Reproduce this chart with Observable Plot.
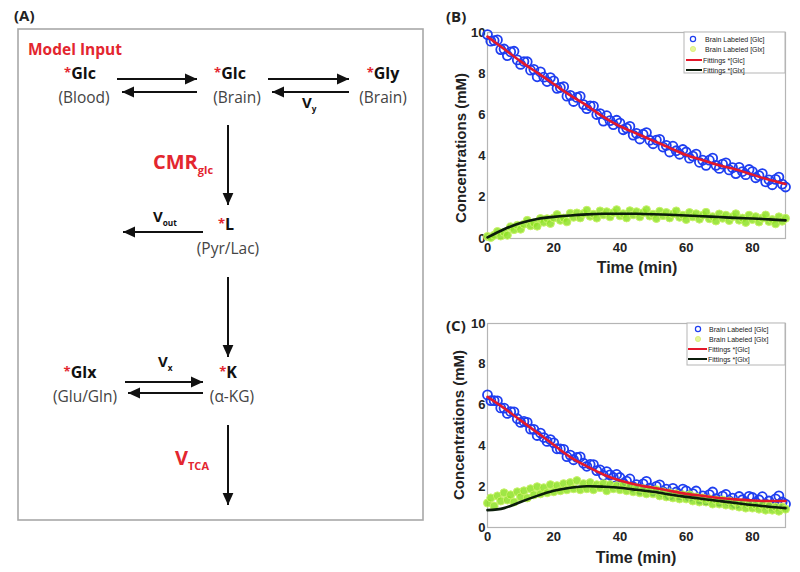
<!DOCTYPE html>
<html><head><meta charset="utf-8">
<script src="https://cdn.jsdelivr.net/npm/d3@7"></script>
<script src="https://cdn.jsdelivr.net/npm/@observablehq/plot@0.6"></script>
<style>
body{margin:0;background:#fff;}
#wrap{position:relative;width:800px;height:572px;overflow:hidden;background:#fff;font-family:"Liberation Sans",Arial,sans-serif;}
.plot{position:absolute;}
#overlay{position:absolute;left:0;top:0;pointer-events:none;}
</style>
</head><body>
<div id="wrap"><div id="pB" class="plot" style="left:440px;top:0px"></div><div id="pC" class="plot" style="left:440px;top:280px"></div></div>
<script>
// ---------- DATA ----------
const minutes = d3.range(0, 91, 1);       // sampling grid of the measurements (min)
const fitMinutes = d3.range(0, 91, 5);    // sampling grid of the fitted curves (min)
const xTicks = [0, 20, 40, 60, 80];
const yTicks = [0, 2, 4, 6, 8, 10];
const legendLabels = ["Brain Labeled [Glc]", "Brain Labeled [Glx]", "Fittings *[Glc]", "Fittings *[Glx]"];

// Panel B
const bGlc = [
 9.9,9.58,9.61,9.64,9.17,9.2,8.88,9.06,9.09,8.67,
 8.45,8.59,8.58,8.17,8.21,7.85,8.09,7.83,7.62,7.81,
 7.65,7.29,7.33,7.37,6.91,6.95,6.65,6.85,6.9,6.5,
 6.3,6.44,6.43,6.02,6.06,5.7,5.96,5.72,5.53,5.74,
 5.6,5.28,5.36,5.44,5.02,5.1,4.83,5.06,5.14,4.77,
 4.6,4.78,4.81,4.44,4.52,4.2,4.48,4.26,4.09,4.32,
 4.2,3.9,4.0,4.1,3.7,3.8,3.55,3.8,3.9,3.55,
 3.4,3.61,3.67,3.33,3.44,3.15,3.45,3.25,3.1,3.35,
 3.25,2.95,3.05,3.15,2.75,2.85,2.61,2.87,2.98,2.64,
 2.5];
const bGlx = [
 0.1,0.05,0.16,0.34,0.12,0.3,0.16,0.57,0.43,0.64,
 0.45,0.69,0.88,0.62,0.76,0.6,0.97,0.79,0.96,0.73,
 1.0,1.16,0.88,0.99,0.81,1.22,1.03,1.24,1.0,1.21,
 1.37,1.08,1.18,0.99,1.34,1.15,1.3,1.05,1.25,1.4,
 1.1,1.2,1.0,1.35,1.15,1.3,1.05,1.25,1.4,1.09,
 1.18,0.97,1.32,1.11,1.26,1.0,1.19,1.34,1.03,1.13,
 0.92,1.26,1.05,1.2,0.94,1.13,1.27,0.96,1.06,0.85,
 1.19,0.98,1.13,0.87,1.06,1.2,0.89,0.99,0.78,1.13,
 0.92,1.06,0.8,0.99,1.14,0.83,0.92,0.71,1.05,0.84,
 0.98];
const bGlcFit = [9.8,9.2,8.6,8.05,7.5,6.95,6.45,5.9,5.45,5.1,4.75,4.4,4.05,3.8,3.55,3.35,3.1,2.85,2.65];
const bGlxFit = [0.05,0.45,0.75,0.95,1.05,1.12,1.17,1.2,1.2,1.2,1.18,1.15,1.12,1.08,1.04,1.0,0.97,0.93,0.88];

// Panel C
const cGlc = [
 6.5,6.22,6.22,6.21,5.86,5.85,5.59,5.68,5.67,5.33,
 5.15,5.2,5.15,4.82,4.81,4.51,4.63,4.41,4.22,4.31,
 4.15,3.86,3.85,3.83,3.47,3.55,3.32,3.44,3.46,3.15,
 3.0,3.09,3.08,2.79,2.82,2.56,2.74,2.58,2.45,2.6,
 2.45,2.16,2.27,2.38,1.99,2.1,1.87,2.14,2.26,1.93,
 1.8,2.02,2.09,1.76,1.88,1.6,1.92,1.74,1.61,1.88,
 1.8,1.53,1.66,1.79,1.42,1.55,1.33,1.61,1.74,1.42,
 1.3,1.54,1.62,1.31,1.44,1.18,1.52,1.36,1.24,1.53,
 1.47,1.22,1.36,1.51,1.15,1.3,1.1,1.4,1.55,1.25,
 1.15];
const cGlx = [
 1.2,1.45,1.05,1.55,1.3,1.7,1.35,1.6,1.25,1.75,
 1.5,1.8,1.45,1.9,1.6,2.0,1.65,1.95,1.7,2.1,
 1.75,2.05,1.8,2.15,1.85,2.2,1.9,2.3,1.85,2.15,
 1.9,2.2,1.85,2.1,1.95,2.15,1.8,2.1,1.9,2.05,
 1.85,2.1,1.8,2.0,1.75,1.95,1.7,1.9,1.65,1.85,
 1.65,1.85,1.55,1.75,1.5,1.7,1.45,1.65,1.4,1.6,
 1.4,1.6,1.3,1.5,1.25,1.45,1.25,1.4,1.15,1.35,
 1.15,1.35,1.1,1.3,1.05,1.25,1.0,1.2,0.95,1.15,
 0.95,1.1,0.9,1.1,0.85,1.05,0.85,1.0,0.8,1.0,
 0.9];
const cGlcFit = [6.4,5.85,5.25,4.65,4.05,3.45,3.0,2.6,2.3,2.1,1.95,1.8,1.65,1.55,1.45,1.38,1.32,1.3,1.3];
const cGlxFit = [0.85,0.95,1.25,1.55,1.8,1.95,2.02,2.0,1.95,1.85,1.75,1.62,1.5,1.4,1.3,1.2,1.1,1.02,0.95];

// Panel A diagram content
const species = [
 {name:"Glc", paren:"(Blood)",  nx:80,  px:84,  y:79},
 {name:"Glc", paren:"(Brain)",  nx:230, px:237, y:79},
 {name:"Gly", paren:"(Brain)",  nx:383, px:383, y:79},
 {name:"L",   paren:"(Pyr/Lac)",nx:226, px:228, y:230},
 {name:"Glx", paren:"(Glu/Gln)",nx:80,  px:85,  y:378},
 {name:"K",   paren:"(α-KG)",   nx:228, px:232, y:378}
];
const rates = [
 {main:"CMR", sub:"glc", x:153, y:169, size:20, red:true},
 {main:"V",   sub:"y",   x:302, y:108, size:15, red:false},
 {main:"V",   sub:"out", x:153, y:222, size:15, red:false},
 {main:"V",   sub:"x",   x:158, y:367, size:15, red:false},
 {main:"V",   sub:"TCA", x:175, y:465, size:20, red:true}
];
const arrows = [
 [117,79,197,79],[197,92,122,92],[268,79,349,79],[349,92,272,92],
 [228,125,228,205],[203,232,123,232],[228,277,228,357],
 [125,382,203,382],[203,393,128,393],[228,425,228,505]
];

// ---------- STYLE ----------
const BLUE = "#1e3ef0", GREEN = "#8ee226", RED = "#e3182b", BLACK = "#0b1d0b", ARED = "#e3262f";

function panel(glc, glx, glcFit, glxFit, h, mt, mb) {
  const obs1 = minutes.map((m,i)=>({t:m, v:glc[i]}));
  const obs2 = minutes.map((m,i)=>({t:m, v:glx[i]}));
  const fit1 = fitMinutes.map((m,i)=>({t:m, v:glcFit[i]}));
  const fit2 = fitMinutes.map((m,i)=>({t:m, v:glxFit[i]}));
  return Plot.plot({
    width: 360, height: h,
    marginLeft: 47, marginRight: 15, marginTop: mt, marginBottom: mb,
    style: {fontFamily: "Liberation Sans, Arial, sans-serif", fontSize: "13px", fontWeight: "bold", color: "#222", background: "transparent"},
    x: {domain: [0, 90]},
    y: {domain: [0, 10]},
    marks: [
      Plot.frame({stroke: "#b5b5b5", strokeWidth: 1.2}),
      Plot.axisX({ticks: xTicks, tickSize: 0, tickPadding: 4, label: null}),
      Plot.axisY({ticks: yTicks, tickSize: 0, tickPadding: 2, label: null}),
      Plot.dot(obs1, {x: "t", y: "v", r: 4.5, stroke: BLUE, strokeWidth: 1.8, fill: "none"}),
      Plot.dot(obs2, {x: "t", y: "v", r: 4, fill: GREEN, fillOpacity: 0.85, stroke: "#c8f268", strokeWidth: 1}),
      Plot.line(fit1, {x: "t", y: "v", stroke: RED, strokeWidth: 2.6, curve: "natural"}),
      Plot.line(fit2, {x: "t", y: "v", stroke: BLACK, strokeWidth: 2.6, curve: "natural"})
    ]
  });
}

document.getElementById("pB").appendChild(panel(bGlc, bGlx, bGlcFit, bGlxFit, 280, 32, 42));
document.getElementById("pC").appendChild(panel(cGlc, cGlx, cGlcFit, cGlxFit, 292, 43, 45));

// ---------- OVERLAY (diagram, labels, legends) ----------
const svg = d3.select("#wrap").append("svg").attr("id","overlay").attr("width",800).attr("height",572);
const defs = svg.append("defs");
defs.append("marker").attr("id","ah").attr("markerUnits","userSpaceOnUse")
  .attr("markerWidth",12).attr("markerHeight",12).attr("refX",10).attr("refY",5)
  .attr("orient","auto").attr("viewBox","0 0 10 10")
  .append("path").attr("d","M0,0.5 L10,5 L0,9.5 Z").attr("fill","#111");

const DF = "'Open Sans', 'DejaVu Sans', sans-serif";
svg.append("rect").attr("x",18).attr("y",29).attr("width",405).attr("height",491)
  .attr("fill","none").attr("stroke","#a8a8a8").attr("stroke-width",1.6);

svg.append("text").attr("x",14).attr("y",21).text("(A)")
  .attr("font-family",DF).attr("font-weight","bold").attr("font-size",15).attr("fill","#222");
svg.append("text").attr("x",446).attr("y",22).text("(B)")
  .attr("font-family",DF).attr("font-weight","bold").attr("font-size",15).attr("fill","#222");
svg.append("text").attr("x",446).attr("y",331).text("(C)")
  .attr("font-family",DF).attr("font-weight","bold").attr("font-size",15).attr("fill","#222");

svg.append("text").attr("x",28).attr("y",55).text("Model Input")
  .attr("font-family",DF).attr("font-weight","bold").attr("font-size",15.5).attr("fill",ARED);

arrows.forEach(a=>{
  svg.append("line").attr("x1",a[0]).attr("y1",a[1]).attr("x2",a[2]).attr("y2",a[3])
    .attr("stroke","#111").attr("stroke-width",2).attr("marker-end","url(#ah)");
});

species.forEach(s=>{
  const t = svg.append("text").attr("x",s.nx).attr("y",s.y).attr("text-anchor","middle")
    .attr("font-family",DF).attr("font-size",16).attr("font-weight","bold");
  t.append("tspan").text("*").attr("fill",ARED).attr("font-size",13).attr("dy",-2);
  t.append("tspan").text(s.name).attr("fill","#111").attr("dy",2);
  svg.append("text").attr("x",s.px).attr("y",s.y+24).attr("text-anchor","middle")
    .attr("font-family",DF).attr("font-size",15.5).attr("fill","#444").text(s.paren);
});

rates.forEach(r=>{
  const t = svg.append("text").attr("x",r.x).attr("y",r.y)
    .attr("font-family",DF).attr("font-weight","bold").attr("font-size",r.size).attr("fill",r.red?ARED:"#111");
  t.append("tspan").text(r.main);
  t.append("tspan").text(r.sub).attr("font-size",r.size*0.55).attr("dy",r.size*0.25);
});

// axis titles
function axisTitles(cx, cy, yx, yy) {
  svg.append("text").attr("x",cx).attr("y",cy).attr("text-anchor","middle")
    .attr("font-family","Liberation Sans, Arial, sans-serif").attr("font-weight","bold").attr("font-size",16)
    .attr("fill","#222").text("Time (min)");
  svg.append("text").attr("transform",`translate(${yx},${yy}) rotate(-90)`).attr("text-anchor","middle")
    .attr("font-family","Liberation Sans, Arial, sans-serif").attr("font-weight","bold").attr("font-size",15)
    .attr("fill","#222").text("Concentrations (mM)");
}
axisTitles(637, 273, 466, 148);
axisTitles(636, 563, 464, 425);

// legends
function legend(x0, y0, w, h, rowY, mx, lx1, lx2, tx) {
  svg.append("rect").attr("x",x0).attr("y",y0).attr("width",w).attr("height",h)
    .attr("fill","#fff").attr("stroke","#b5b5b5").attr("stroke-width",1);
  svg.append("circle").attr("cx",mx).attr("cy",rowY[0]).attr("r",2.6).attr("fill","none").attr("stroke",BLUE).attr("stroke-width",1.2);
  svg.append("circle").attr("cx",mx).attr("cy",rowY[1]).attr("r",2.6).attr("fill","#e6f59a").attr("stroke","#d8ec70").attr("stroke-width",0.8);
  svg.append("line").attr("x1",lx1).attr("x2",lx2).attr("y1",rowY[2]).attr("y2",rowY[2]).attr("stroke",RED).attr("stroke-width",2);
  svg.append("line").attr("x1",lx1).attr("x2",lx2).attr("y1",rowY[3]).attr("y2",rowY[3]).attr("stroke",BLACK).attr("stroke-width",2);
  legendLabels.forEach((lab,i)=>{
    svg.append("text").attr("x", i<2 ? tx : lx2+1).attr("y",rowY[i]+2.5)
      .attr("font-family","Liberation Sans, Arial, sans-serif").attr("font-size",7).attr("fill","#222").text(lab);
  });
}
legend(684, 32, 101, 41, [39,49,60,70], 693, 686, 702, 705);
legend(687, 323, 98, 42, [329,339,349,359], 698, 688, 707, 709);
</script>
</body></html>
